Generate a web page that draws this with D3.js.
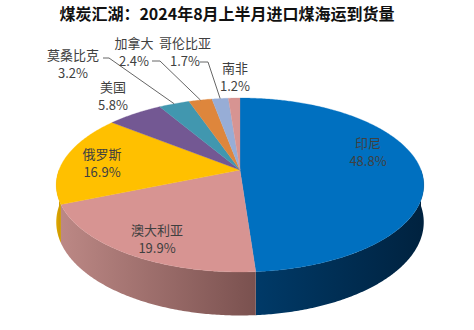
<!DOCTYPE html>
<html><head><meta charset="utf-8">
<script src="https://cdn.jsdelivr.net/npm/d3@7"></script>
<style>body{margin:0;background:#fff}</style>
</head><body><svg id="c" width="474" height="330"></svg>
<script>
const title = "煤炭汇湖：2024年8月上半月进口煤海运到货量";
const categories = ["印尼","澳大利亚","俄罗斯","美国","莫桑比克","加拿大","哥伦比亚","南非"];
const values = [48.8, 19.9, 16.9, 5.8, 3.2, 2.4, 1.7, 1.2];
const percentLabels = ["48.8%","19.9%","16.9%","5.8%","3.2%","2.4%","1.7%","1.2%"];

// styles
const topColors = ["#0070C0","#D79492","#FFC000","#735893","#4197AF","#DE863C","#97ADD6","#D79492"];
const sideColors = [["#003A68","#00223F"],["#BC8885","#7A514F"],["#E0A800","#C99600"],["#5a4474","#4a3860"],["#2f7386","#255d6d"],["#b06a2e","#8f5424"],["#7286aa","#5c6d8b"],["#BC8885","#7A514F"]];

// layout (label centres)
const labelPos = [[368,143],[157,230],[102,154],[113,87],[73,55],[134,43],[185,43],[235,68]];
const leaders = {4:[[103,58],[109,58]], 5:[[152,61],[160,61]], 6:[[200,62],[208,62]]};

const svg = d3.select("#c");
const CX = 240, CY = 170, A = 181, B = 84.4, P = 0.1724, H = 36;
function proj(a, drop) {
  const u = Math.sin(a), v = Math.cos(a), w = 1 + P * v;
  return [CX + A * u / w, CY - B * v / w + (drop || 0) / w];
}
function arcPts(a0, a1, drop) {
  const n = Math.max(2, Math.ceil(Math.abs(a1 - a0) / 0.01));
  const s = d3.scaleLinear().domain([0, n]).range([a0, a1]);
  return d3.range(n + 1).map(i => proj(s(i), drop));
}

const pie = d3.pie().sort(null).value(d => d).startAngle(0).endAngle(2 * Math.PI);
const arcs = pie(values);
const defs = svg.append("defs");
const line = d3.line();

// side walls (front half)
const gWall = svg.append("g");
arcs.forEach((d, i) => {
  const a0 = Math.max(d.startAngle, Math.PI / 2), a1 = Math.min(d.endAngle, 3 * Math.PI / 2);
  if (a1 <= a0) return;
  const top = arcPts(a0, a1, 0), bot = arcPts(a1, a0, H);
  const pts = top.concat(bot);
  const xs = pts.map(p => p[0]);
  const gid = "g" + i;
  const gr = defs.append("linearGradient").attr("id", gid).attr("gradientUnits", "userSpaceOnUse")
    .attr("x1", d3.min(xs)).attr("x2", d3.max(xs)).attr("y1", 0).attr("y2", 0);
  const leftIsFront = (a0 + a1) / 2 > Math.PI;
  gr.append("stop").attr("offset", 0).attr("stop-color", sideColors[i][0]);
  gr.append("stop").attr("offset", 1).attr("stop-color", sideColors[i][1]);
  gWall.append("path").attr("d", line(pts) + "Z").attr("fill", `url(#${gid})`);
});

// top faces
const gTop = svg.append("g");
arcs.forEach((d, i) => {
  const pts = [[CX, CY]].concat(arcPts(d.startAngle, d.endAngle, 0));
  gTop.append("path").attr("d", line(pts) + "Z").attr("fill", topColors[i])
    .attr("stroke", topColors[i]).attr("stroke-width", 0.3);
});

// leader lines
const gL = svg.append("g");
Object.keys(leaders).forEach(k => {
  const d = arcs[k];
  const end = proj((d.startAngle + d.endAngle) / 2, 0);
  const pts = leaders[k].concat([end]);
  gL.append("path").attr("d", line(pts)).attr("fill", "none").attr("stroke", "#666").attr("stroke-width", 1);
});

// labels
const gT = svg.append("g").attr("font-family", "'Noto Sans CJK SC', 'Noto Sans', sans-serif")
  .attr("font-size", 13).attr("fill", "#404040").attr("text-anchor", "middle");
categories.forEach((c, i) => {
  const [x, y] = labelPos[i];
  gT.append("text").attr("x", x).attr("y", y).attr("dy", "0.35em").text(c);
  gT.append("text").attr("x", x).attr("y", y + 18).attr("dy", "0.35em").text(percentLabels[i]);
});

svg.append("text").attr("x", 227).attr("y", 14).attr("dy", "0.35em").attr("text-anchor", "middle")
  .attr("font-family", "'Noto Sans CJK SC', sans-serif").attr("font-weight", "bold").attr("font-size", 16)
  .attr("fill", "#111").text(title);
</script></body></html>
